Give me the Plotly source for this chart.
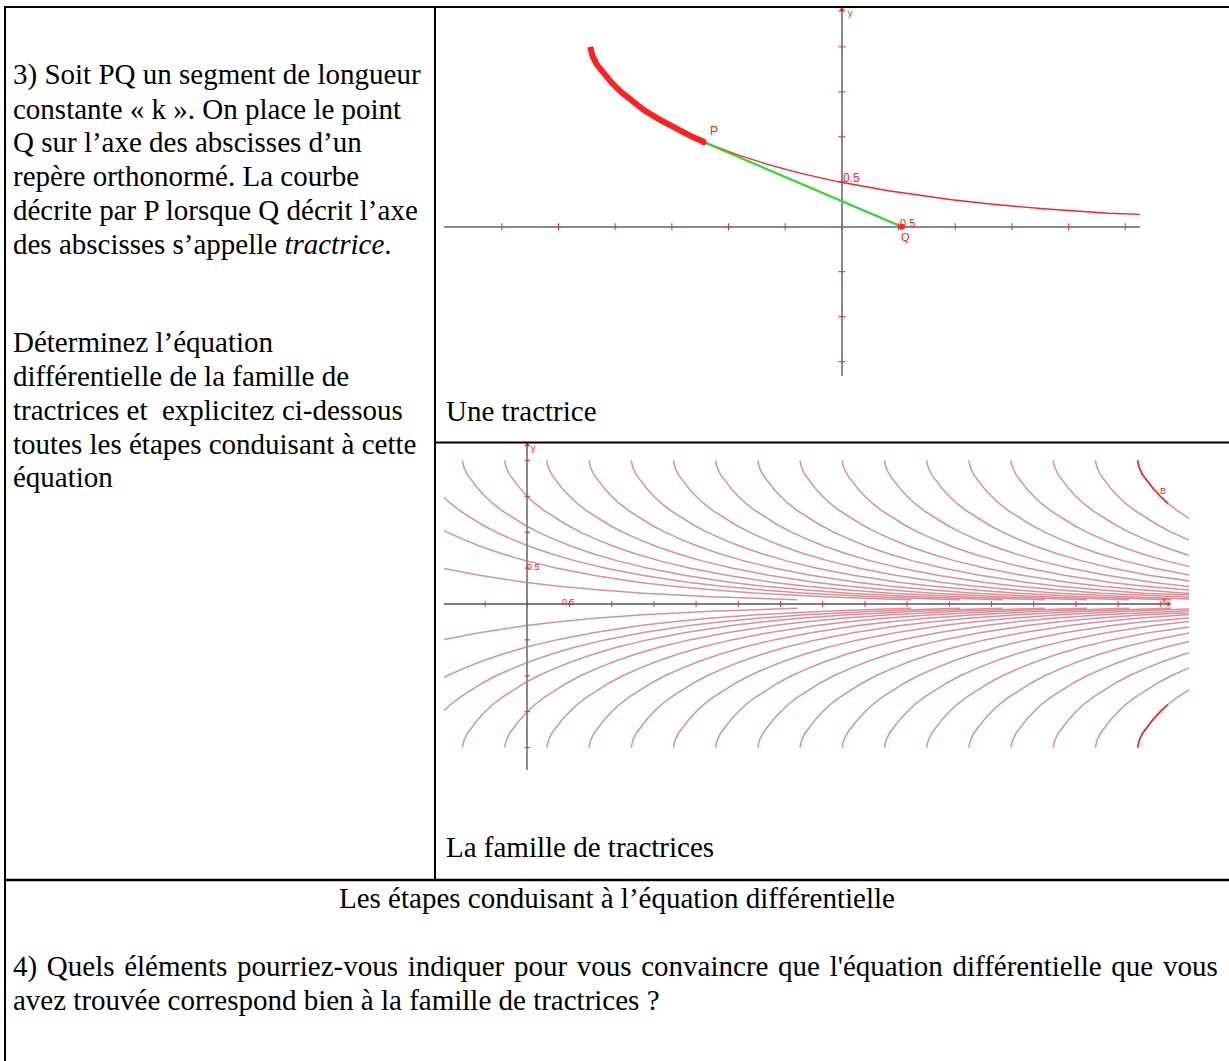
import plotly.graph_objects as go

W, H = 1229, 1061

# ---------------- data ----------------
# Tractrix shape (segment length k = 2): height y and horizontal distance from the cusp
TRACTRIX_Y = [2.0, 1.95, 1.9, 1.8, 1.7, 1.6, 1.5, 1.4, 1.3, 1.2, 1.1, 1.0, 0.94, 0.9,
              0.8, 0.7, 0.6, 0.5, 0.4, 0.3, 0.25, 0.2, 0.15, 0.1, 0.07, 0.06]
TRACTRIX_DX = [0.0, 0.01, 0.02, 0.06, 0.12, 0.19, 0.27, 0.36, 0.47, 0.60, 0.74, 0.90, 1.01, 1.09,
               1.30, 1.55, 1.84, 2.19, 2.63, 3.19, 3.55, 4.00, 4.57, 5.38, 6.09, 6.40]

# Plot 1: one tractrix, P on the curve and Q on the x axis
TRACTRIX_CUSP_X = -2.22
P_POINT = (-1.22, 0.94)
Q_POINT = (0.53, 0.0)
PLOT1_X_RANGE = [-3.51, 2.63]
PLOT1_Y_RANGE = [-1.66, 2.41]
PLOT1_X_TICKS = [-3, -2.5, -2, -1.5, -1, -0.5, 0, 0.5, 1, 1.5, 2, 2.5]
PLOT1_Y_TICKS = [-1.5, -1, -0.5, 0.5, 1, 1.5, 2]

# Plot 2: family of tractrices (cusp abscissas), mirrored below the axis
FAMILY_CUSPS = [-3.2, -1.85, -1.27, -0.77, -0.27, 0.23, 0.73, 1.23, 1.73, 2.23, 2.73,
                3.23, 3.73, 4.23, 4.73, 5.23, 5.73, 6.23, 6.73, 7.23]
B_CUSP = 7.23
B_ARC_MIN_Y = 1.4
B_POINT = (7.42, 1.57)
PLOT2_X_RANGE = [-0.987, 7.84]
PLOT2_Y_RANGE = [-2.312, 2.214]
PLOT2_AXIS_END = 7.6
PLOT2_X_TICKS = [-0.5, 0, 0.5, 1, 1.5, 2, 2.5, 3, 3.5, 4, 4.5, 5, 5.5, 6, 6.5, 7, 7.5]
PLOT2_Y_TICKS = [-2, -1.5, -1, -0.5, 0.5, 1, 1.5, 2]

LEFT_LINES_1 = [
    "3) Soit PQ un segment de longueur",
    "constante « k ». On place le point",
    "Q sur l’axe des abscisses d’un",
    "repère orthonormé. La courbe",
    "décrite par P lorsque Q décrit l’axe",
    "des abscisses s’appelle <i>tractrice</i>.",
]
LEFT_LINES_2 = [
    "Déterminez l’équation",
    "différentielle de la famille de",
    "tractrices et\u00a0 explicitez ci-dessous",
    "toutes les étapes conduisant à cette",
    "équation",
]
CAPTION_1 = "Une tractrice"
CAPTION_2 = "La famille de tractrices"
STEPS_TITLE = "Les étapes conduisant à l’équation différentielle"
Q4_LINES = [
    "4) Quels éléments pourriez-vous indiquer pour vous convaincre que l'équation différentielle que vous",
    "avez trouvée correspond bien à la famille de tractrices ?",
]

# ---------------- styles ----------------
SERIF = "Liberation Serif, Times New Roman, serif"
SANS = "Liberation Sans, Arial, sans-serif"
FS = 29
RED = "#ff2020"
FADED = "rgba(205, 95, 110, 0.7)"
AXIS_GRAY = "#8a8a8a"


def px_x(x):
    return x / W


def px_y(y):
    return 1 - y / H


fig = go.Figure()

# ---------------- plot 1 ----------------
t1x = [TRACTRIX_CUSP_X + d for d in TRACTRIX_DX]
fig.add_trace(go.Scatter(x=t1x, y=TRACTRIX_Y, mode="lines",
                         line=dict(color=RED, width=1.3), xaxis="x", yaxis="y"))
thick_x = [TRACTRIX_CUSP_X + d for d, yy in zip(TRACTRIX_DX, TRACTRIX_Y) if yy >= P_POINT[1]]
thick_y = [yy for yy in TRACTRIX_Y if yy >= P_POINT[1]]
fig.add_trace(go.Scatter(x=thick_x, y=thick_y, mode="lines",
                         line=dict(color=RED, width=6), xaxis="x", yaxis="y"))
fig.add_trace(go.Scatter(x=[P_POINT[0], Q_POINT[0]], y=[P_POINT[1], Q_POINT[1]], mode="lines",
                         line=dict(color="#22dd22", width=2), xaxis="x", yaxis="y"))
fig.add_trace(go.Scatter(x=[P_POINT[0], Q_POINT[0]], y=[P_POINT[1], Q_POINT[1]], mode="markers",
                         marker=dict(color=RED, size=6), xaxis="x", yaxis="y"))
# tick marks on the axes
fig.add_trace(go.Scatter(x=PLOT1_X_TICKS, y=[0] * len(PLOT1_X_TICKS), mode="markers",
                         marker=dict(symbol="line-ns", size=5, line=dict(color=RED, width=1)),
                         xaxis="x", yaxis="y"))
fig.add_trace(go.Scatter(x=[0] * len(PLOT1_Y_TICKS), y=PLOT1_Y_TICKS, mode="markers",
                         marker=dict(symbol="line-ew", size=5, line=dict(color=RED, width=1)),
                         xaxis="x", yaxis="y"))
fig.add_trace(go.Scatter(x=[0], y=[PLOT1_Y_RANGE[1]], mode="markers", cliponaxis=False,
                         marker=dict(symbol="triangle-up", size=6, color=RED),
                         xaxis="x", yaxis="y"))

# ---------------- plot 2 ----------------
fx, fy = [], []
for c in FAMILY_CUSPS:
    fx += [c + d for d in TRACTRIX_DX] + [None]
    fy += list(TRACTRIX_Y) + [None]
    fx += [c + d for d in TRACTRIX_DX] + [None]
    fy += [-v for v in TRACTRIX_Y] + [None]
fig.add_trace(go.Scatter(x=fx, y=fy, mode="lines", line=dict(color=FADED, width=1.5),
                         xaxis="x2", yaxis="y2"))
bx = [B_CUSP + d for d, yy in zip(TRACTRIX_DX, TRACTRIX_Y) if yy >= B_ARC_MIN_Y]
by = [yy for yy in TRACTRIX_Y if yy >= B_ARC_MIN_Y]
fig.add_trace(go.Scatter(x=bx + [None] + bx, y=by + [None] + [-v for v in by], mode="lines",
                         line=dict(color=RED, width=1.6), xaxis="x2", yaxis="y2"))
fig.add_trace(go.Scatter(x=[PLOT2_X_RANGE[0], PLOT2_AXIS_END], y=[0, 0], mode="lines",
                         line=dict(color="#555555", width=1.3), xaxis="x2", yaxis="y2"))
fig.add_trace(go.Scatter(x=PLOT2_X_TICKS, y=[0] * len(PLOT2_X_TICKS), mode="markers",
                         marker=dict(symbol="line-ns", size=4, line=dict(color=RED, width=1)),
                         xaxis="x2", yaxis="y2"))
fig.add_trace(go.Scatter(x=[0] * len(PLOT2_Y_TICKS), y=PLOT2_Y_TICKS, mode="markers",
                         marker=dict(symbol="line-ew", size=4, line=dict(color=RED, width=1)),
                         xaxis="x2", yaxis="y2"))
fig.add_trace(go.Scatter(x=[0], y=[PLOT2_Y_RANGE[1]], mode="markers", cliponaxis=False,
                         marker=dict(symbol="triangle-up", size=5, color=RED),
                         xaxis="x2", yaxis="y2"))
fig.add_trace(go.Scatter(x=[PLOT2_AXIS_END], y=[0], mode="markers", cliponaxis=False,
                         marker=dict(symbol="triangle-right", size=5, color=RED),
                         xaxis="x2", yaxis="y2"))

# ---------------- annotations ----------------
ann = []


def text_line(x, baseline, txt, size=FS, xanchor="left", font=SERIF, color="black"):
    ann.append(dict(xref="paper", yref="paper", x=px_x(x),
                    y=px_y(baseline - 0.3375 * size), xanchor=xanchor, yanchor="middle",
                    text=txt, showarrow=False, borderpad=0, borderwidth=0,
                    font=dict(family=font, size=size, color=color)))


for i, t in enumerate(LEFT_LINES_1):
    text_line(13, 84.5 + i * 33.8, t)
for i, t in enumerate(LEFT_LINES_2):
    text_line(13, 352 + i * 33.8, t)
text_line(446, 421, CAPTION_1)
text_line(446, 857, CAPTION_2)
text_line(617, 908, STEPS_TITLE, xanchor="center")
# first line of question 4 is justified in the reference: widen its word gaps
text_line(13, 976, Q4_LINES[0].replace(" ", " \u200a"))
text_line(13, 1010, Q4_LINES[1])


def data_label(xref, yref, x, y, txt, size, xanchor="left", yanchor="bottom", xs=0, ys=0):
    ann.append(dict(xref=xref, yref=yref, x=x, y=y, text=txt, showarrow=False,
                    xanchor=xanchor, yanchor=yanchor, xshift=xs, yshift=ys,
                    borderpad=0, borderwidth=0,
                    font=dict(family=SANS, size=size, color=RED)))


data_label("x", "y", P_POINT[0], P_POINT[1], "P", 12, xs=6, ys=4)
data_label("x", "y", Q_POINT[0], Q_POINT[1], "Q", 11, xanchor="left", yanchor="top", xs=-1, ys=-4)
data_label("x", "y", 0, 0.5, "0.5", 12, xs=1, ys=-3)
data_label("x", "y", 0.5, 0, "0.5", 11, yanchor="middle", xs=1, ys=4)
data_label("x", "y", 0, PLOT1_Y_RANGE[1], "y", 9, xs=6, yanchor="top", ys=2)
data_label("x2", "y2", 0, 0.5, "0.5", 9, xs=0, ys=-4)
data_label("x2", "y2", 0.5, 0, "0.5", 9, xs=-8, ys=-3)
data_label("x2", "y2", 0, PLOT2_Y_RANGE[1], "y", 9, xs=4, yanchor="top", ys=2)
data_label("x2", "y2", PLOT2_AXIS_END, 0, "x", 9, xanchor="center", xs=-4, ys=-1)
data_label("x2", "y2", B_POINT[0], B_POINT[1], "B", 9, xanchor="left", yanchor="middle", xs=6)

# ---------------- table frame ----------------
shapes = []


def hline(x0, x1, y, w=2):
    shapes.append(dict(type="line", xref="paper", yref="paper", x0=px_x(x0), x1=px_x(x1),
                       y0=px_y(y), y1=px_y(y), line=dict(color="black", width=w)))


def vline(x, y0, y1, w=2):
    shapes.append(dict(type="line", xref="paper", yref="paper", x0=px_x(x), x1=px_x(x),
                       y0=px_y(y0), y1=px_y(y1), line=dict(color="black", width=w)))


hline(4, W, 7)
vline(5, 7, H)
vline(435, 7, 880)
hline(435, W, 442.5)
hline(4, W, 880, 2.5)

hidden = dict(showgrid=False, showticklabels=False, ticks="", showline=False)
fig.update_layout(
    width=W, height=H, margin=dict(l=0, r=0, t=0, b=0),
    paper_bgcolor="white", plot_bgcolor="white", showlegend=False, hovermode=False,
    xaxis=dict(domain=[px_x(444), px_x(1140)], range=PLOT1_X_RANGE, anchor="y",
               zeroline=True, zerolinecolor=AXIS_GRAY, zerolinewidth=2, **hidden),
    yaxis=dict(domain=[px_y(376), px_y(10)], range=PLOT1_Y_RANGE, anchor="x",
               zeroline=True, zerolinecolor=AXIS_GRAY, zerolinewidth=2, **hidden),
    xaxis2=dict(domain=[px_x(444), px_x(1189)], range=PLOT2_X_RANGE, anchor="y2",
                zeroline=True, zerolinecolor=AXIS_GRAY, zerolinewidth=2, **hidden),
    yaxis2=dict(domain=[px_y(770), px_y(445)], range=PLOT2_Y_RANGE, anchor="x2",
                zeroline=False, **hidden),
    annotations=ann, shapes=shapes,
)

fig.write_html("out.html", config={"displayModeBar": False},
               post_script="document.body.style.margin='0';document.body.style.overflow='hidden';")
